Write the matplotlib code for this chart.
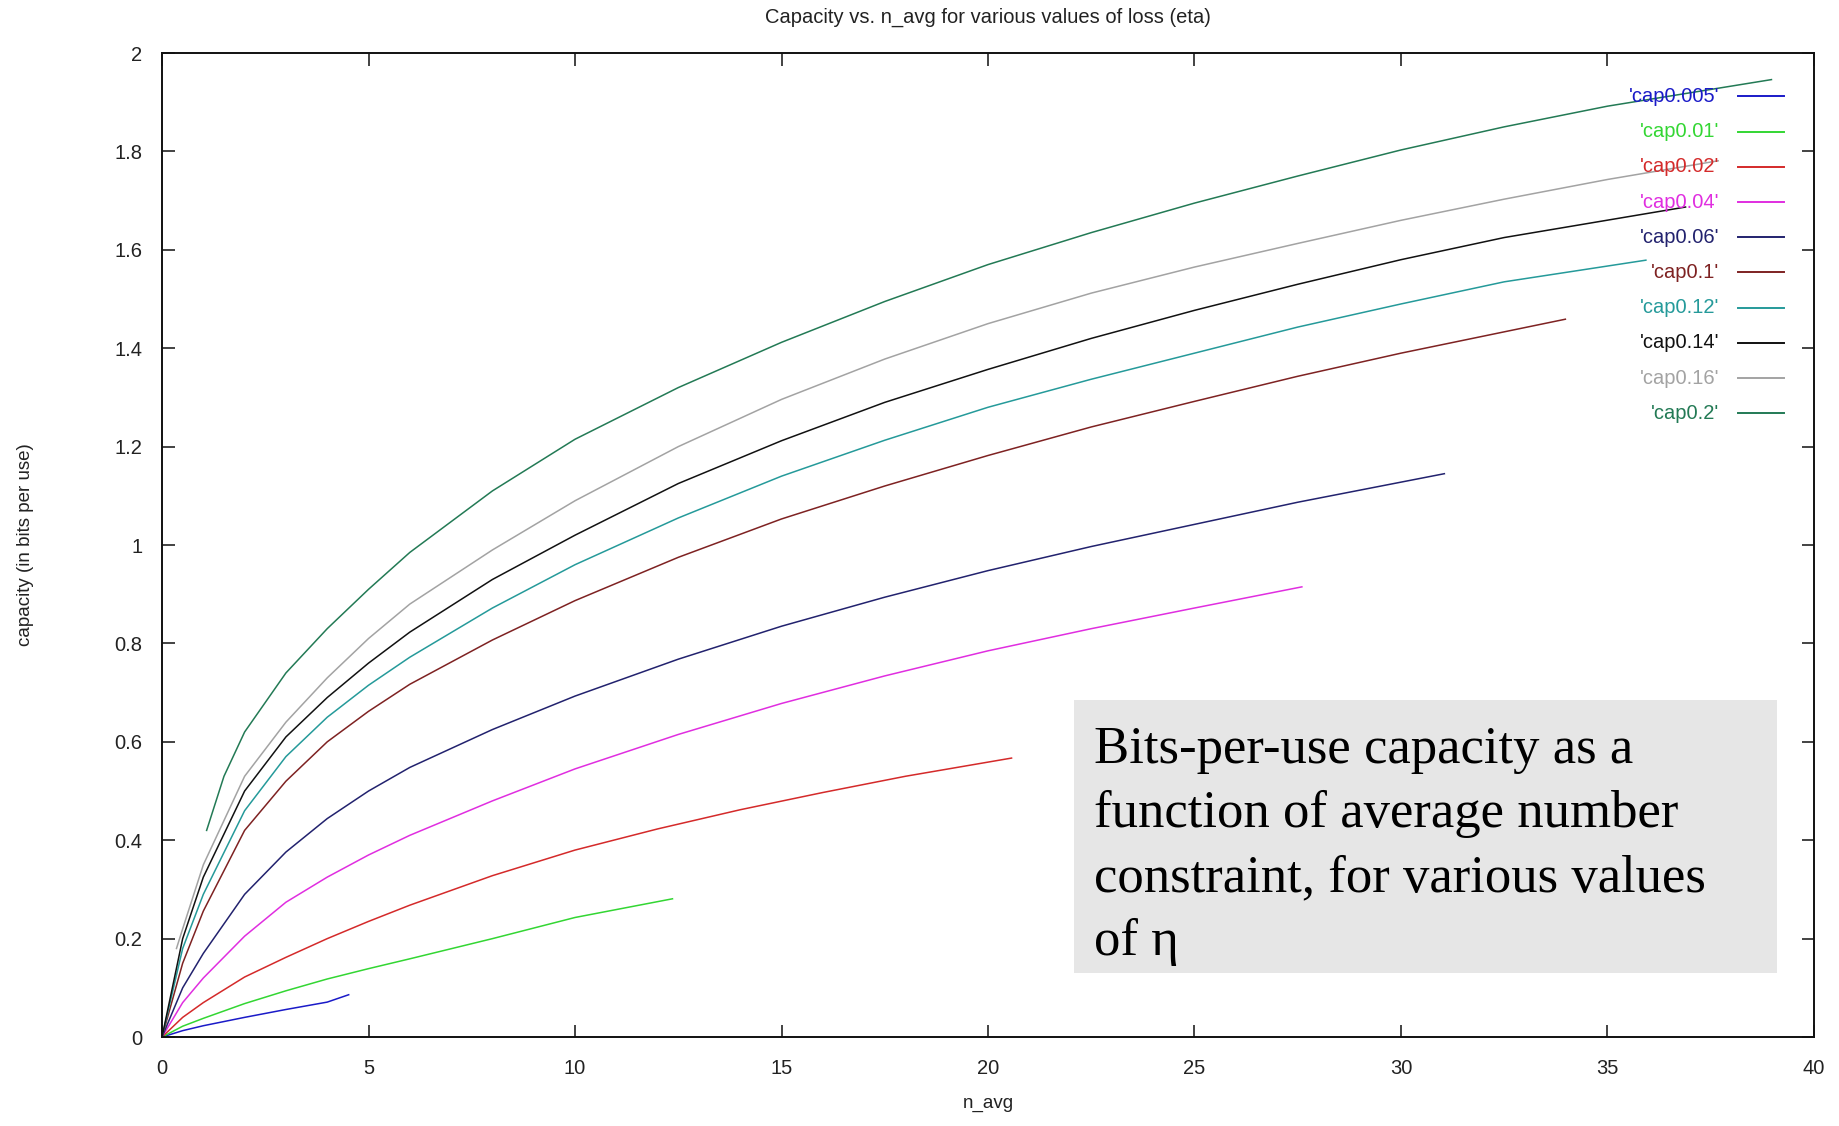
import matplotlib
matplotlib.use('Agg')
import matplotlib.pyplot as plt
from matplotlib.lines import Line2D
from matplotlib.patches import Rectangle
from matplotlib.ticker import FuncFormatter

# curves: n_avg vs capacity (bits per use)
labels = ["'cap0.005'", "'cap0.01'", "'cap0.02'", "'cap0.04'", "'cap0.06'",
          "'cap0.1'", "'cap0.12'", "'cap0.14'", "'cap0.16'", "'cap0.2'"]
colors = ['#1a1ac8', '#33d633', '#d42a2a', '#e02ee0', '#22226e',
          '#7e2222', '#259a9a', '#111111', '#a3a3a3', '#237a55']

x_005 = [0, 0.5, 1, 2, 3, 4, 4.52]
y_005 = [0, 0.013, 0.023, 0.040, 0.056, 0.071, 0.086]

x_01 = [0, 0.5, 1, 2, 3, 4, 5, 6, 8, 10, 12.36]
y_01 = [0, 0.022, 0.038, 0.068, 0.094, 0.118, 0.139, 0.159, 0.20, 0.243, 0.281]

x_02 = [0, 0.5, 1, 2, 3, 4, 5, 6, 8, 10, 12, 14, 16, 18, 20.57]
y_02 = [0, 0.04, 0.07, 0.122, 0.162, 0.2, 0.235, 0.268, 0.328, 0.38, 0.423, 0.462, 0.497, 0.53, 0.567]

x_04 = [0, 0.5, 1, 2, 3, 4, 5, 6, 8, 10, 12.5, 15, 17.5, 20, 22.5, 25, 27.6]
y_04 = [0, 0.07, 0.12, 0.205, 0.274, 0.325, 0.37, 0.41, 0.48, 0.545, 0.615, 0.678, 0.734,
        0.785, 0.83, 0.872, 0.915]

x_06 = [0, 0.5, 1, 2, 3, 4, 5, 6, 8, 10, 12.5, 15, 17.5, 20, 22.5, 25, 27.5, 31.05]
y_06 = [0, 0.10, 0.17, 0.29, 0.376, 0.444, 0.50, 0.548, 0.625, 0.693, 0.768, 0.835, 0.894,
        0.948, 0.997, 1.042, 1.087, 1.145]

x_1 = [0, 0.5, 1, 2, 3, 4, 5, 6, 8, 10, 12.5, 15, 17.5, 20, 22.5, 25, 27.5, 30, 33.98]
y_1 = [0, 0.15, 0.256, 0.42, 0.52, 0.60, 0.662, 0.717, 0.807, 0.887, 0.975, 1.053, 1.12,
       1.182, 1.24, 1.292, 1.343, 1.39, 1.459]

x_12 = [0, 0.5, 1, 2, 3, 4, 5, 6, 8, 10, 12.5, 15, 17.5, 20, 22.5, 25, 27.5, 30, 32.5, 35.93]
y_12 = [0, 0.18, 0.29, 0.46, 0.57, 0.65, 0.715, 0.772, 0.872, 0.96, 1.055, 1.14, 1.213,
        1.28, 1.337, 1.39, 1.443, 1.49, 1.535, 1.579]

x_14 = [0, 0.5, 1, 2, 3, 4, 5, 6, 8, 10, 12.5, 15, 17.5, 20, 22.5, 25, 27.5, 30, 32.5, 36.89]
y_14 = [0, 0.20, 0.325, 0.50, 0.61, 0.69, 0.76, 0.823, 0.93, 1.02, 1.125, 1.212, 1.29,
        1.357, 1.42, 1.477, 1.53, 1.58, 1.625, 1.687]

x_16 = [0.35, 0.5, 1, 2, 3, 4, 5, 6, 8, 10, 12.5, 15, 17.5, 20, 22.5, 25, 27.5, 30, 32.5, 35, 37.68]
y_16 = [0.18, 0.22, 0.35, 0.53, 0.64, 0.73, 0.81, 0.88, 0.99, 1.09, 1.20, 1.296, 1.378,
        1.45, 1.512, 1.565, 1.613, 1.66, 1.703, 1.743, 1.781]

x_2 = [1.08, 1.5, 2, 3, 4, 5, 6, 8, 10, 12.5, 15, 17.5, 20, 22.5, 25, 27.5, 30, 32.5, 35, 38.97]
y_2 = [0.42, 0.53, 0.62, 0.74, 0.83, 0.91, 0.985, 1.11, 1.215, 1.32, 1.412, 1.495, 1.57,
       1.635, 1.695, 1.75, 1.803, 1.85, 1.892, 1.946]

xs = [x_005, x_01, x_02, x_04, x_06, x_1, x_12, x_14, x_16, x_2]
ys = [y_005, y_01, y_02, y_04, y_06, y_1, y_12, y_14, y_16, y_2]

x_ticks = [0, 5, 10, 15, 20, 25, 30, 35, 40]
y_ticks = [0, 0.2, 0.4, 0.6, 0.8, 1.0, 1.2, 1.4, 1.6, 1.8, 2.0]

note = ['Bits-per-use capacity as a', 'function of average number',
        'constraint, for various values', 'of \u03b7']

plt.rcParams['font.family'] = ['Liberation Sans', 'DejaVu Sans']

fig = plt.figure(figsize=(18.39, 11.26), dpi=100)
ax = fig.add_axes([0.0881, 0.0790, 0.8983, 0.8739])

for x, y, c in zip(xs, ys, colors):
    ax.plot(x, y, color=c, linewidth=1.1)

ax.set_xlim(0, 40)
ax.set_ylim(0, 2)
ax.set_xticks(x_ticks)
ax.set_yticks(y_ticks)
ax.yaxis.set_major_formatter(FuncFormatter(lambda v, p: '%g' % v))
ax.tick_params(direction='in', length=9, width=1.2, top=True, right=True,
               labelsize=14.5, colors='#222222')
ax.tick_params(axis='x', pad=16)
ax.tick_params(axis='y', pad=14)
for s in ax.spines.values():
    s.set_linewidth(1.4)
    s.set_color('#111111')

ax.set_title('Capacity vs. n_avg for various values of loss (eta)', fontsize=14.5,
             pad=22, color='#222222')
ax.set_xlabel('n_avg', fontsize=13.5, labelpad=12, color='#222222')
ax.set_ylabel('capacity (in bits per use)', fontsize=13.5, labelpad=58, color='#222222')

# gnuplot-style key: right aligned text, sample line on the right
for i, (lab, c) in enumerate(zip(labels, colors)):
    yk = 0.956 - i * 0.0358
    ax.text(0.9425, yk, lab, transform=ax.transAxes, ha='right', va='center',
            color=c, fontsize=14.5)
    ax.add_line(Line2D([0.954, 0.982], [yk, yk], transform=ax.transAxes,
                       color=c, linewidth=1.4))

# grey annotation box
fig.patches.append(Rectangle((0.584, 0.1359), 0.3823, 0.2425, transform=fig.transFigure,
                             facecolor='#e6e6e6', edgecolor='none', zorder=5))
for i, line in enumerate(note):
    fig.text(0.5949, 1 - (763.5 + i * 63.8) / 1126, line, family=['Liberation Serif', 'DejaVu Serif'],
             fontsize=38, va='baseline', ha='left', color='black', zorder=6)

fig.savefig('out.png', dpi=100)
